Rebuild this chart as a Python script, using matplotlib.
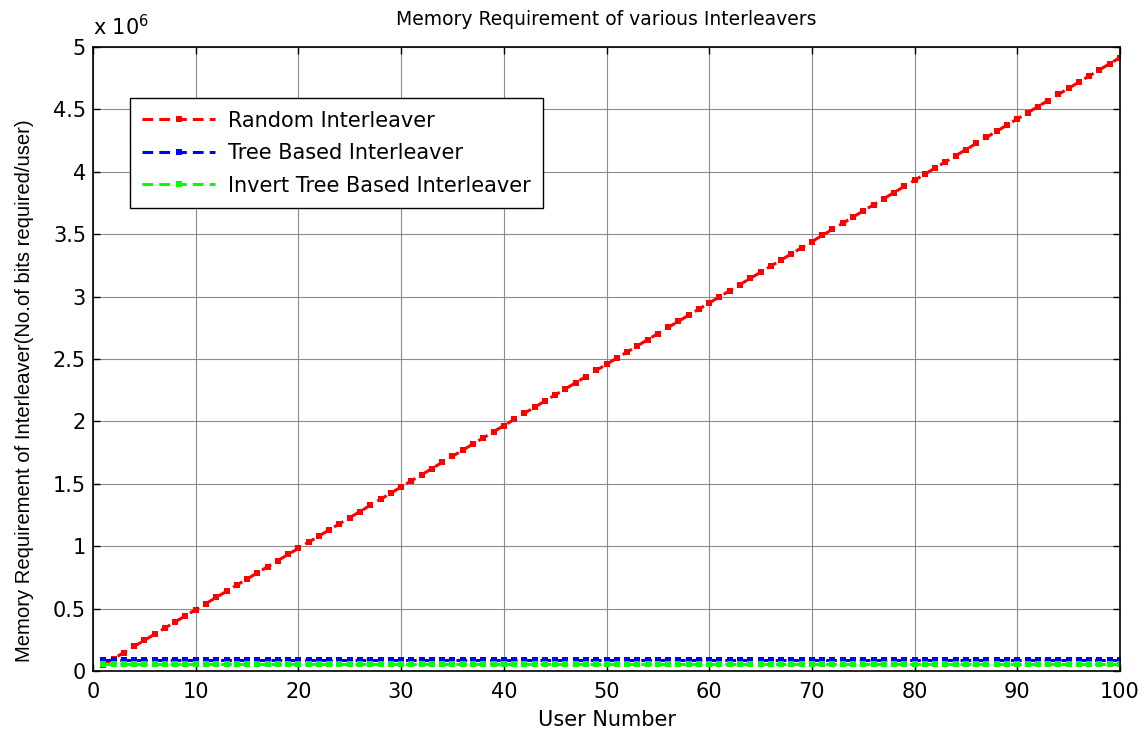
import matplotlib
matplotlib.use("Agg")
import matplotlib.pyplot as plt
from matplotlib.ticker import FuncFormatter, MultipleLocator

plt.rcParams["font.family"] = ["DejaVu Sans"]

# bits of interleaver memory needed per user
users = list(range(1, 101))
random_bits = [
    49152, 98304, 147456, 196608, 245760, 294912, 344064, 393216, 442368, 491520,
    540672, 589824, 638976, 688128, 737280, 786432, 835584, 884736, 933888, 983040,
    1032192, 1081344, 1130496, 1179648, 1228800, 1277952, 1327104, 1376256, 1425408, 1474560,
    1523712, 1572864, 1622016, 1671168, 1720320, 1769472, 1818624, 1867776, 1916928, 1966080,
    2015232, 2064384, 2113536, 2162688, 2211840, 2260992, 2310144, 2359296, 2408448, 2457600,
    2506752, 2555904, 2605056, 2654208, 2703360, 2752512, 2801664, 2850816, 2899968, 2949120,
    2998272, 3047424, 3096576, 3145728, 3194880, 3244032, 3293184, 3342336, 3391488, 3440640,
    3489792, 3538944, 3588096, 3637248, 3686400, 3735552, 3784704, 3833856, 3883008, 3932160,
    3981312, 4030464, 4079616, 4128768, 4177920, 4227072, 4276224, 4325376, 4374528, 4423680,
    4472832, 4521984, 4571136, 4620288, 4669440, 4718592, 4767744, 4816896, 4866048, 4915200,
]
tree_bits = [92000] * 100
invert_tree_bits = [58000] * 100

series_names = ["Random Interleaver", "Tree Based Interleaver", "Invert Tree Based Interleaver"]
series_colors = ["#ff0000", "#0000ff", "#00ff00"]

fig = plt.figure(figsize=(11.45, 7.33), dpi=100)
ax = fig.add_axes([93 / 1145, 62 / 733, 1027 / 1145, 624 / 733])

for vals, name, col in zip([random_bits, tree_bits, invert_tree_bits], series_names, series_colors):
    ax.plot(users, vals, linestyle="--", dashes=(3.5, 2), color=col, linewidth=2.2,
            marker="s", markersize=5, markeredgewidth=0, label=name)

ax.set_xlim(0, 100)
ax.set_ylim(0, 5e6)
ax.xaxis.set_major_locator(MultipleLocator(10))
ax.yaxis.set_major_locator(MultipleLocator(0.5e6))
ax.yaxis.set_major_formatter(FuncFormatter(lambda y, pos: f"{y / 1e6:g}"))

ax.grid(True, color="#8c8c8c", linewidth=0.8)
ax.set_axisbelow(True)
ax.tick_params(direction="in", length=5, width=1, labelsize=15, top=True, right=True)
ax.tick_params(axis="x", pad=8)
ax.tick_params(axis="y", pad=5)
for sp in ax.spines.values():
    sp.set_linewidth(1.2)

ax.text(0, 1.012, r"x 10$^6$", transform=ax.transAxes, fontsize=15, ha="left", va="bottom")

ax.set_title("Memory Requirement of various Interleavers", fontsize=13.5, pad=16)
ax.set_xlabel("User Number", fontsize=15, labelpad=6)
ax.set_ylabel("Memory Requirement of Interleaver(No.of bits required/user)",
              fontsize=14.6, family="Liberation Sans")
ax.yaxis.set_label_coords(-0.057, 0.45)

leg = ax.legend(loc="upper left", bbox_to_anchor=(0.036, 0.918), fontsize=15,
                fancybox=False, framealpha=1, edgecolor="black", handlelength=3.5,
                borderpad=0.6, labelspacing=0.6, handletextpad=0.6, borderaxespad=0)
leg.get_frame().set_linewidth(1.0)

fig.savefig("out.png", dpi=100)
